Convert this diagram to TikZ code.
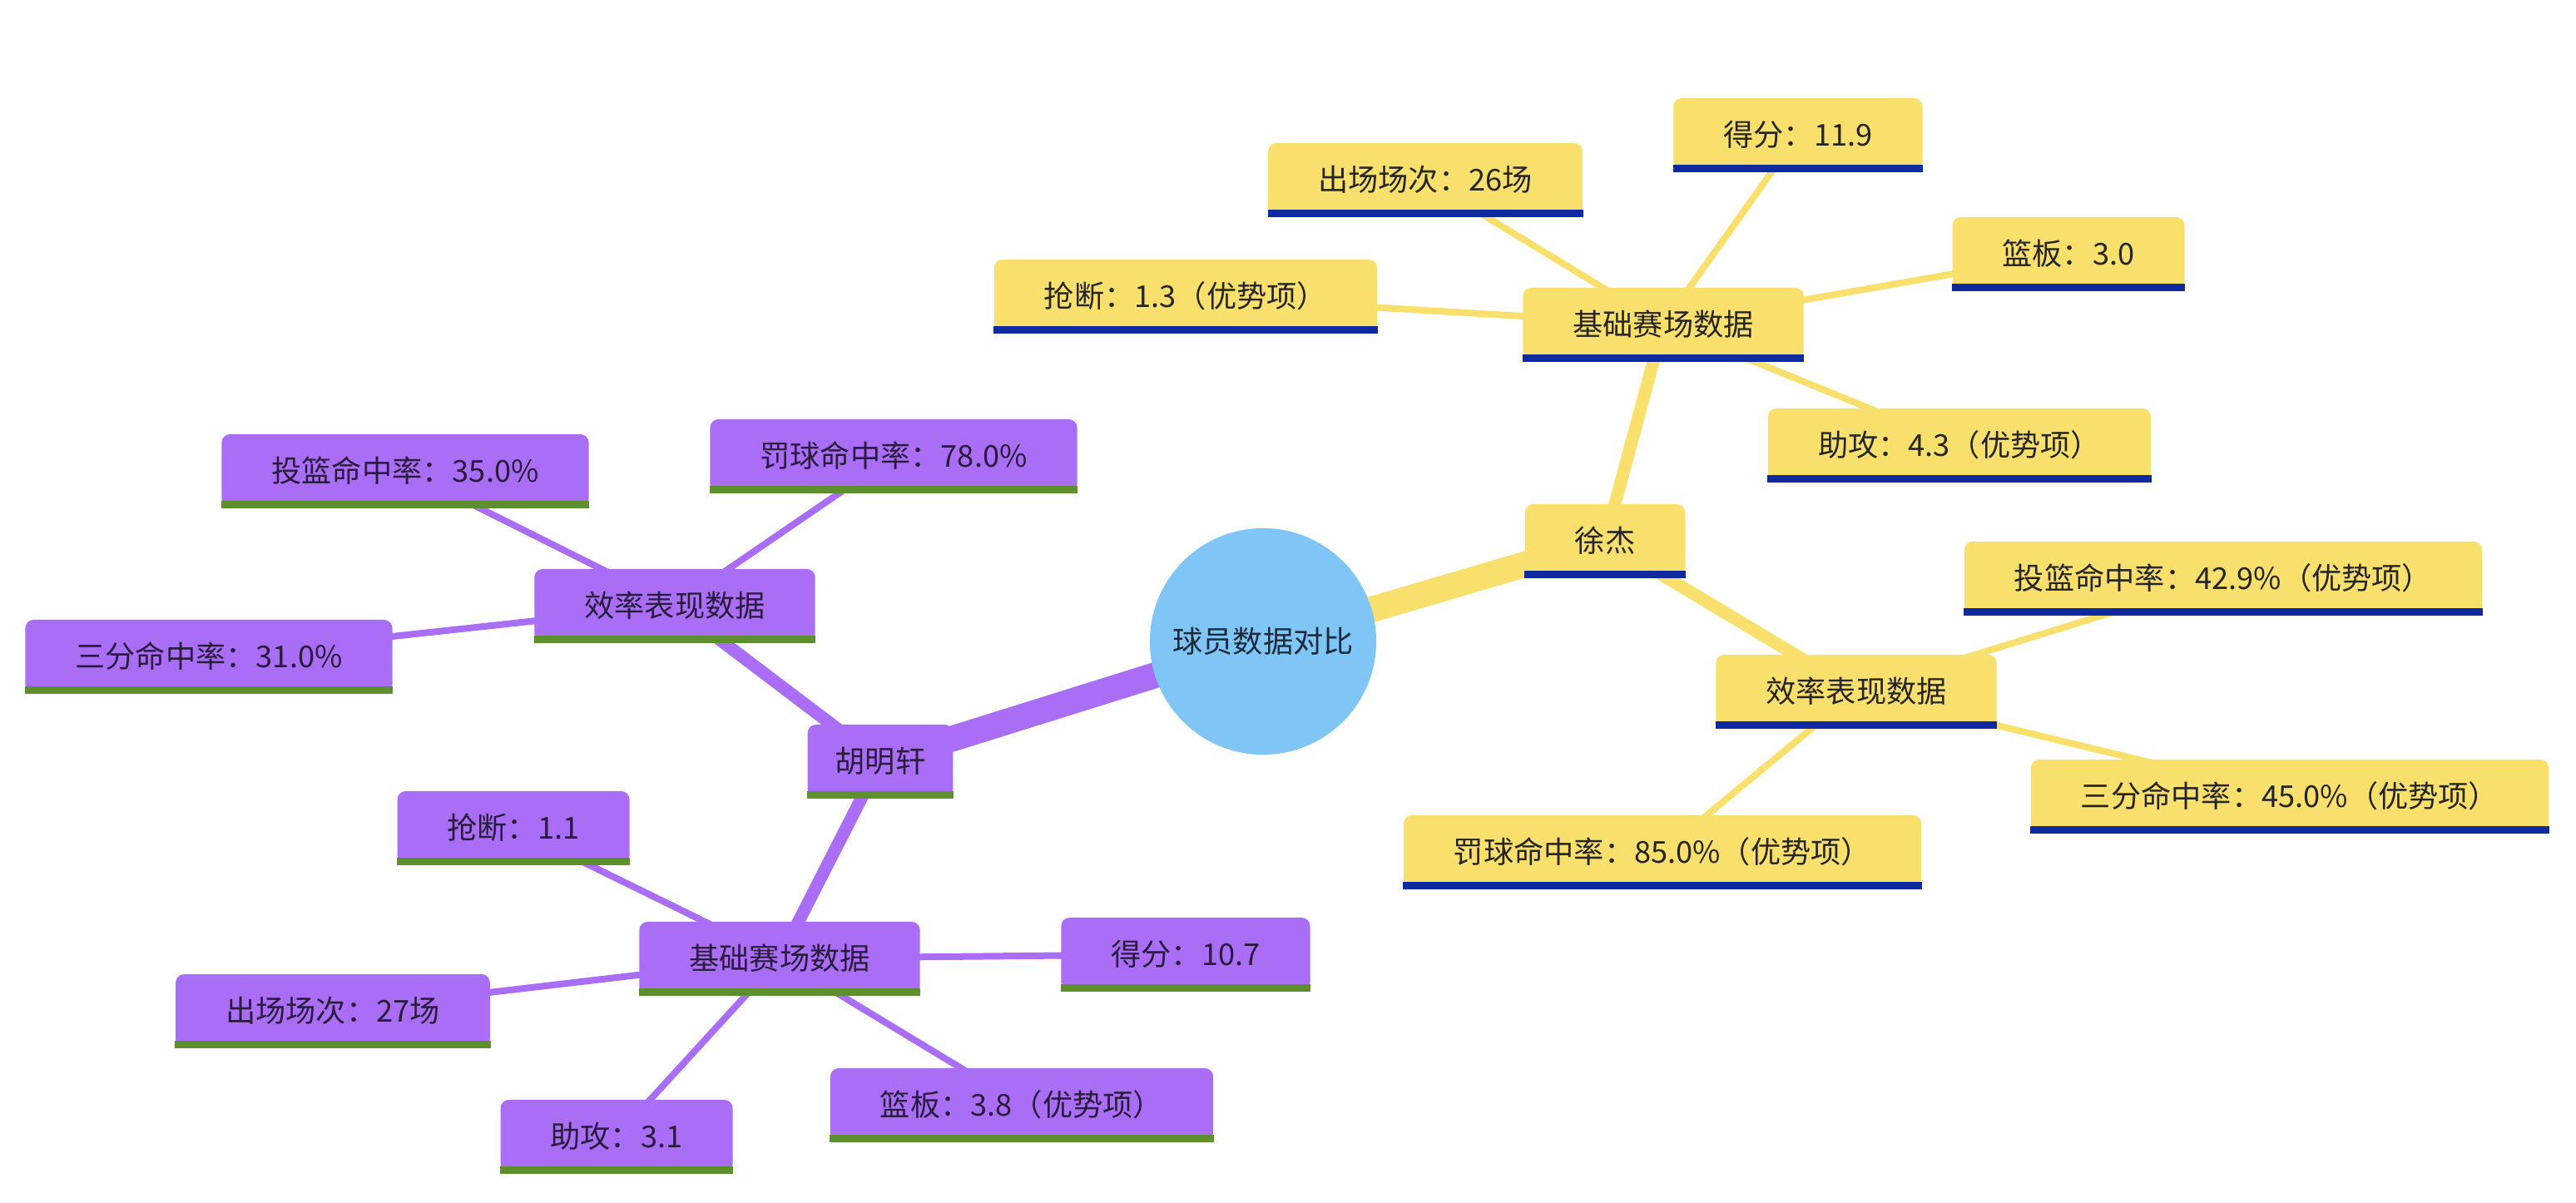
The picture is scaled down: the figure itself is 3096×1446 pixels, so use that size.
\documentclass[tikz,border=0pt]{standalone}
\usepackage{fontspec}
\newfontfamily\cjk{Noto Sans CJK SC}
\usetikzlibrary{backgrounds}

\definecolor{jaune}{HTML}{F9DF6B}
\definecolor{bleu}{HTML}{0F2A9E}
\definecolor{violet}{HTML}{A96EF5}
\definecolor{vert}{HTML}{5E8F2E}
\definecolor{ciel}{HTML}{7FC5F6}
\definecolor{encre}{HTML}{1C2A3C}

\tikzset{
  boite/.style={rounded corners=0.1cm, minimum height=0.88cm, inner xsep=0.6cm, inner ysep=0pt,
    font=\cjk\fontsize{10.3}{12}\selectfont},
  jboite/.style={boite, fill=jaune, text=black!85},
  vboite/.style={boite, fill=violet, text=black!75!violet},
  trait0/.style={line width=0.31cm},
  trait1/.style={line width=0.15cm},
  trait2/.style={line width=0.08cm},
}

\begin{document}
\begin{tikzpicture}  % ------ Comparaison des joueurs -----------------------------
      [x=0.01cm, y=-0.01cm]

    \useasboundingbox (0,0) rectangle (3096,1446);

    \node[circle, fill=ciel, minimum size=2.72cm, inner sep=0pt,
          font=\cjk\fontsize{10.3}{12}\selectfont, text=encre] (C) at (1518,771) {球员数据对比};

% branche jaune : Xu Jie
    \node[jboite] (J0)  at (1929,650)  {徐杰};
    \node[jboite] (J1)  at (1999,390)  {基础赛场数据};
    \node[jboite] (J11) at (2161,162)  {得分：11.9};
    \node[jboite] (J12) at (1713,216)  {出场场次：26场};
    \node[jboite] (J13) at (1425,356)  {抢断：1.3（优势项）};
    \node[jboite] (J14) at (2486,305)  {篮板：3.0};
    \node[jboite] (J15) at (2355,535)  {助攻：4.3（优势项）};
    \node[jboite] (J2)  at (2231,831)  {效率表现数据};
    \node[jboite] (J21) at (2672,695)  {投篮命中率：42.9\%（优势项）};
    \node[jboite] (J22) at (2752,957)  {三分命中率：45.0\%（优势项）};
    \node[jboite] (J23) at (1998,1024) {罚球命中率：85.0\%（优势项）};

% branche violette : Hu Mingxuan
    \node[vboite, inner xsep=0.33cm] (V0) at (1058,915) {胡明轩};
    \node[vboite] (V1)  at (811,728)   {效率表现数据};
    \node[vboite] (V11) at (487,566)   {投篮命中率：35.0\%};
    \node[vboite] (V12) at (1074,548)  {罚球命中率：78.0\%};
    \node[vboite] (V13) at (251,789)   {三分命中率：31.0\%};
    \node[vboite] (V2)  at (937,1152)  {基础赛场数据};
    \node[vboite] (V21) at (617,995)   {抢断：1.1};
    \node[vboite] (V22) at (1425,1147) {得分：10.7};
    \node[vboite] (V23) at (400,1215)  {出场场次：27场};
    \node[vboite] (V24) at (741,1366)  {助攻：3.1};
    \node[vboite] (V25) at (1228,1328) {篮板：3.8（优势项）};

    \foreach \n in {J0,J1,J11,J12,J13,J14,J15,J2,J21,J22,J23}
      \fill[bleu] (\n.south west) rectangle ([yshift=0.09cm]\n.south east);
    \foreach \n in {V0,V1,V11,V12,V13,V2,V21,V22,V23,V24,V25}
      \fill[vert] (\n.south west) rectangle ([yshift=0.09cm]\n.south east);

    \begin{pgfonlayer}{background}
      \draw[jaune, trait0] (C.center) -- (J0.center);
      \draw[jaune, trait1] (J0.center) -- (J1.center);  \draw[jaune, trait1] (J0.center) -- (J2.center);
      \foreach \n in {J11,J12,J13,J14,J15} \draw[jaune, trait2] (J1.center) -- (\n.center);
      \foreach \n in {J21,J22,J23} \draw[jaune, trait2] (J2.center) -- (\n.center);

      \draw[violet, trait0] (C.center) -- (V0.center);
      \draw[violet, trait1] (V0.center) -- (V1.center);  \draw[violet, trait1] (V0.center) -- (V2.center);
      \foreach \n in {V11,V12,V13} \draw[violet, trait2] (V1.center) -- (\n.center);
      \foreach \n in {V21,V22,V23,V24,V25} \draw[violet, trait2] (V2.center) -- (\n.center);
    \end{pgfonlayer}

\end{tikzpicture}
\end{document}
